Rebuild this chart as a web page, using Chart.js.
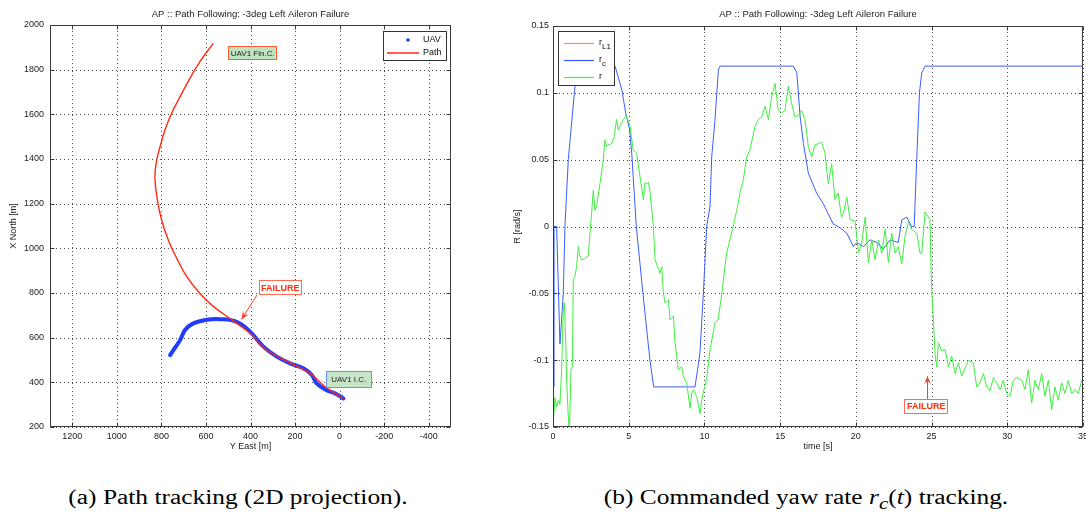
<!DOCTYPE html>
<html>
<head>
<meta charset="utf-8">
<script src="https://cdn.jsdelivr.net/npm/chart.js@4.4.1/dist/chart.umd.min.js"></script>
<style>
  html, body { margin: 0; padding: 0; background: #fff; }
  body { width: 1086px; height: 514px; position: relative; overflow: hidden; }
  .panel { position: absolute; top: 0; height: 460px; }
  #left { left: 0; width: 470px; }
  #right { left: 500px; width: 586px; }
  .caption { position: absolute; top: 486px; font-family: "Liberation Serif", serif; font-size: 20px;
             color: #000; white-space: nowrap; transform: translateX(-50%) scaleX(1.27); }
</style>
</head>
<body>
<div class="panel" id="left"><canvas id="pathChart"></canvas></div>
<div class="panel" id="right"><canvas id="yawChart"></canvas></div>
<div class="caption" style="left:238px">(a) Path tracking (2D projection).</div>
<div class="caption" style="left:806px">(b) Commanded yaw rate <i>r</i><sub><i>c</i></sub>(<i>t</i>) tracking.</div>
<script>
// ---- data: path tracking (East / North in metres) ----
const pathEast  = [-17, 65, 133, 208, 327, 402, 477, 567, 627, 686, 731, 769, 799, 818, 829, 821, 806, 784, 754, 716, 672, 627, 567];
const pathNorth = [328, 380, 440, 480, 545, 620, 675, 740, 798, 873, 955, 1037, 1127, 1216, 1321, 1395, 1455, 1530, 1605, 1679, 1761, 1836, 1918];

const uavEast  = [-17, 20, 58, 103, 125, 163, 223, 282, 342, 402, 462, 537, 597, 657, 694, 716, 740, 761];
const uavNorth = [328, 350, 365, 395, 433, 463, 485, 515, 560, 627, 671, 683, 680, 664, 634, 589, 553, 522];

const eastTicks  = [1200, 1000, 800, 600, 400, 200, 0, -200, -400];
const northTicks = [200, 400, 600, 800, 1000, 1200, 1400, 1600, 1800, 2000];

// ---- data: yaw rate tracking ----
const rL1Time   = [0, 0.15];
const rL1Values = [0, 0];

const rcTime   = [0, 0.07, 0.07, 0.24, 0.46, 0.68, 0.79, 1.01, 1.41, 1.6, 4.1, 4.55, 4.8, 5.05, 5.2, 5.5, 5.94, 6.4, 6.65,
                  9.38, 9.7, 9.93, 10.15, 10.37, 10.48, 10.7, 10.92, 11.03, 15.87, 16.1, 16.32, 16.54, 16.86, 17.41, 17.85,
                  18.5, 18.96, 19.4, 19.84, 20.06, 20.5, 20.94, 21.4, 21.8, 22.26, 22.8, 23.03, 23.36, 23.69, 23.85,
                  24.02, 24.2, 24.35, 24.57, 35];
const rcValues = [-0.12, -0.12, 0, 0, -0.088, -0.05, 0, 0.05, 0.1, 0.12, 0.12, 0.102, 0.085, 0.073, 0.055, 0, -0.05, -0.1, -0.12,
                  -0.12, -0.095, -0.05, 0, 0.015, 0.052, 0.08, 0.117, 0.12, 0.12, 0.115, 0.082, 0.062, 0.04, 0.025, 0.017,
                  0.002, -0.001, -0.005, -0.015, -0.012, -0.015, -0.01, -0.012, -0.017, -0.01, -0.012, 0.005, 0.007, 0, 0,
                  0.05, 0.1, 0.115, 0.12, 0.12];

const rTime = [0, 0.13, 0.24, 0.35, 0.46, 0.57, 0.68, 0.75, 0.84, 0.9, 1.0, 1.08, 1.19, 1.28, 1.34, 1.45, 1.56, 1.67, 1.78, 1.9,
  2.1, 2.33, 2.44, 2.55, 2.66, 2.77, 2.88, 3.1, 3.32, 3.43, 3.54, 3.65, 3.87, 4.03, 4.2, 4.31, 4.42, 4.65, 4.82, 5.09,
  5.3, 5.52, 5.75, 5.97, 6.08, 6.19, 6.3, 6.41, 6.63, 6.74, 7.07, 7.18, 7.29, 7.4, 7.62, 7.73, 7.95, 8.06, 8.28, 8.5,
  8.61, 8.83, 9.05, 9.16, 9.27, 9.49, 9.71, 9.82, 9.93, 10.15, 10.37, 10.7, 10.9, 11.13, 11.46, 11.68, 11.9, 12.13, 12.35, 12.57,
  12.79, 13.0, 13.34, 13.56, 13.78, 14.0, 14.22, 14.44, 14.66, 14.88, 15.1, 15.32, 15.54, 15.76, 15.98, 16.2, 16.42, 16.64, 16.86, 17.08,
  17.3, 17.52, 17.74, 17.96, 18.18, 18.4, 18.62, 18.83, 19.05, 19.18, 19.4, 19.62, 19.95, 20.17, 20.39, 20.61, 20.83, 21.05, 21.27, 21.49,
  21.71, 21.93, 22.15, 22.37, 22.59, 22.8, 23.03, 23.25, 23.47, 23.69, 24.02, 24.24, 24.35, 24.57, 24.79, 24.9, 24.97, 25.03, 25.12, 25.23,
  25.34, 25.45, 25.67, 25.89, 26.11, 26.33, 26.55, 26.77, 26.99, 27.43, 27.76, 27.98, 28.2, 28.42, 28.64, 28.86, 29.08, 29.3, 29.52, 29.74,
  29.96, 30.18, 30.4, 30.62, 30.95, 31.17, 31.39, 31.61, 31.83, 32.05, 32.27, 32.49, 32.71, 32.93, 33.15, 33.37, 33.59, 33.81, 34.03, 34.25,
  34.47, 34.69, 34.91, 35];
const rValues = [-0.15, -0.128, -0.135, -0.13, -0.133, -0.107, -0.062, -0.057, -0.085, -0.115, -0.14, -0.155, -0.107, -0.105, -0.04, -0.037, -0.03, -0.015, -0.022, -0.025,
  -0.024, -0.022, -0.005, 0.01, 0.027, 0.012, 0.015, 0.032, 0.05, 0.065, 0.06, 0.061, 0.062, 0.067, 0.08, 0.072, 0.075, 0.08, 0.083, 0.075,
  0.057, 0.055, 0.037, 0.02, 0.033, 0.032, 0.033, 0.025, 0.0, -0.025, -0.035, -0.03, -0.05, -0.057, -0.055, -0.07, -0.067, -0.087, -0.107, -0.105,
  -0.112, -0.117, -0.136, -0.125, -0.122, -0.127, -0.14, -0.13, -0.124, -0.114, -0.092, -0.072, -0.07, -0.052, -0.02, -0.01, 0.0, 0.012, 0.025, 0.035,
  0.052, 0.057, 0.075, 0.08, 0.082, 0.09, 0.08, 0.097, 0.107, 0.087, 0.085, 0.087, 0.105, 0.092, 0.082, 0.083, 0.087, 0.08, 0.06, 0.052,
  0.061, 0.062, 0.063, 0.055, 0.032, 0.047, 0.02, 0.025, 0.007, 0.01, 0.022, 0.005, 0.004, -0.02, -0.012, 0.007, -0.027, -0.01, -0.025, -0.01,
  -0.02, -0.002, -0.027, -0.005, -0.02, -0.015, -0.028, -0.007, 0.003, -0.002, -0.005, -0.02, -0.02, 0.011, 0.007, 0.005, -0.035, -0.052, -0.07, -0.095,
  -0.105, -0.087, -0.093, -0.092, -0.105, -0.097, -0.11, -0.102, -0.112, -0.1, -0.102, -0.12, -0.117, -0.11, -0.12, -0.123, -0.113, -0.117, -0.122, -0.115,
  -0.125, -0.127, -0.115, -0.113, -0.115, -0.122, -0.107, -0.132, -0.115, -0.122, -0.11, -0.127, -0.115, -0.137, -0.12, -0.13, -0.117, -0.125, -0.115, -0.125,
  -0.122, -0.125, -0.115, -0.117];

const timeTicks = [0, 5, 10, 15, 20, 25, 30, 35];
const rateTicks = [-0.15, -0.1, -0.05, 0, 0.05, 0.1, 0.15];
const rateTickLabels = ['-0.15', '-0.1', '-0.05', '0', '0.05', '0.1', '0.15'];

const chartTitle = 'AP :: Path Following: -3deg Left Aileron Failure';

// ---- shared look ----
const sans = 'Liberation Sans, Arial, sans-serif';
const tickFont = { family: sans, size: 9 };
const gridColor = '#4a4a4a';
const frameColor = '#3a3a3a';

function toPoints(xs, ys) {
    return xs.map((v, i) => ({ x: v, y: ys[i] }));
}

// dotted grid (one pixel every four), drawn under the data
function drawGrid(chart) {
    const { ctx, chartArea: ca, scales } = chart;
    const l = Math.round(ca.left), r = Math.round(ca.right);
    const t = Math.round(ca.top), b = Math.round(ca.bottom);
    ctx.save();
    ctx.fillStyle = gridColor;
    scales.x.ticks.forEach(tk => {
        const px = Math.round(scales.x.getPixelForValue(tk.value));
        for (let yy = t + 2; yy < b - 1; yy += 4) ctx.fillRect(px, yy, 1, 1);
    });
    scales.y.ticks.forEach(tk => {
        const py = Math.round(scales.y.getPixelForValue(tk.value));
        for (let xx = l + 2; xx < r - 1; xx += 4) ctx.fillRect(xx, py, 1, 1);
    });
    ctx.restore();
}

// box round the plot plus ticks on the inside
function drawFrame(chart) {
    const { ctx, chartArea: ca, scales } = chart;
    const l = Math.round(ca.left) + 0.5, r = Math.round(ca.right) - 0.5;
    const t = Math.round(ca.top) + 0.5, b = Math.round(ca.bottom) - 0.5;
    ctx.save();
    ctx.strokeStyle = frameColor;
    ctx.lineWidth = 1;
    ctx.strokeRect(l, t, r - l, b - t);
    ctx.beginPath();
    scales.x.ticks.forEach(tk => {
        const px = Math.round(scales.x.getPixelForValue(tk.value)) + 0.5;
        ctx.moveTo(px, b); ctx.lineTo(px, b - 4);
        ctx.moveTo(px, t); ctx.lineTo(px, t + 4);
    });
    scales.y.ticks.forEach(tk => {
        const py = Math.round(scales.y.getPixelForValue(tk.value)) + 0.5;
        ctx.moveTo(l, py); ctx.lineTo(l + 4, py);
        ctx.moveTo(r, py); ctx.lineTo(r - 4, py);
    });
    ctx.stroke();
    ctx.restore();
}

function textBox(ctx, x, y, w, h, text, fill, stroke, color, font) {
    ctx.fillStyle = fill;
    ctx.fillRect(x, y, w, h);
    ctx.strokeStyle = stroke;
    ctx.lineWidth = 1;
    ctx.strokeRect(Math.round(x) + 0.5, Math.round(y) + 0.5, Math.round(w) - 1, Math.round(h) - 1);
    ctx.fillStyle = color;
    ctx.font = font;
    ctx.textAlign = 'center';
    ctx.textBaseline = 'middle';
    ctx.fillText(text, x + w / 2, y + h / 2 + 0.5);
}

function arrow(ctx, x1, y1, x2, y2, color) {
    const a = Math.atan2(y2 - y1, x2 - x1);
    const L = 8, W = 3.5;
    ctx.strokeStyle = color;
    ctx.fillStyle = color;
    ctx.lineWidth = 1;
    ctx.beginPath();
    ctx.moveTo(x1, y1);
    ctx.lineTo(x2, y2);
    ctx.stroke();
    ctx.beginPath();
    ctx.moveTo(x2, y2);
    ctx.lineTo(x2 - L * Math.cos(a) + W * Math.sin(a), y2 - L * Math.sin(a) - W * Math.cos(a));
    ctx.lineTo(x2 - L * 0.6 * Math.cos(a), y2 - L * 0.6 * Math.sin(a));
    ctx.lineTo(x2 - L * Math.cos(a) - W * Math.sin(a), y2 - L * Math.sin(a) + W * Math.cos(a));
    ctx.closePath();
    ctx.fill();
}

const pathDecor = {
    id: 'pathDecor',
    beforeDatasetsDraw(chart) {
        drawGrid(chart);
    },
    afterDraw(chart) {
        const { ctx, chartArea: ca, scales: { x, y } } = chart;
        drawFrame(chart);
        ctx.save();
        // annotations
        textBox(ctx, x.getPixelForValue(500), y.getPixelForValue(1906), 49, 14, 'UAV1 Fin.C.',
            '#bfe4bf', '#ff5a3a', '#222', '8px ' + sans);
        textBox(ctx, x.getPixelForValue(363), y.getPixelForValue(858), 43, 15, 'FAILURE',
            '#ffffff', '#ff6a50', '#ff3010', 'bold 9px ' + sans);
        arrow(ctx, x.getPixelForValue(371), y.getPixelForValue(791), x.getPixelForValue(440), y.getPixelForValue(682), '#ff4020');
        textBox(ctx, x.getPixelForValue(62), y.getPixelForValue(452), 46, 17, 'UAV1 I.C.',
            '#c6e5c6', '#7090ff', '#222', '8px ' + sans);
        // legend
        const x0 = Math.round(ca.right) - 68, y0 = Math.round(ca.top) + 6;
        ctx.fillStyle = '#fff';
        ctx.fillRect(x0, y0, 64, 30);
        ctx.strokeStyle = '#333';
        ctx.strokeRect(x0 + 0.5, y0 + 0.5, 63, 29);
        ctx.fillStyle = '#1f3cff';
        ctx.beginPath();
        ctx.arc(x0 + 25, y0 + 9, 1.8, 0, Math.PI * 2);
        ctx.fill();
        ctx.strokeStyle = '#ff2a10';
        ctx.lineWidth = 1.5;
        ctx.beginPath();
        ctx.moveTo(x0 + 4, y0 + 22);
        ctx.lineTo(x0 + 36, y0 + 22);
        ctx.stroke();
        ctx.fillStyle = '#111';
        ctx.font = '9px ' + sans;
        ctx.textAlign = 'left';
        ctx.textBaseline = 'middle';
        ctx.fillText('UAV', x0 + 40, y0 + 9);
        ctx.fillText('Path', x0 + 40, y0 + 22);
        ctx.restore();
    }
};

const yawDecor = {
    id: 'yawDecor',
    beforeDatasetsDraw(chart) {
        drawGrid(chart);
    },
    afterDraw(chart) {
        const { ctx, chartArea: ca, scales: { x, y } } = chart;
        drawFrame(chart);
        ctx.save();
        // failure marker
        const bx = x.getPixelForValue(23.2), by = y.getPixelForValue(-0.129);
        textBox(ctx, bx, by, 44, 15, 'FAILURE', '#ffffff', '#ff6a50', '#ff3010', 'bold 9px ' + sans);
        const ax = Math.round(x.getPixelForValue(24.72)) + 0.5;
        arrow(ctx, ax, by, ax, y.getPixelForValue(-0.112), '#ff4020');
        // legend
        const x0 = Math.round(ca.left) + 5, y0 = Math.round(ca.top) + 5;
        ctx.fillStyle = '#fff';
        ctx.fillRect(x0, y0, 57, 55);
        ctx.strokeStyle = '#333';
        ctx.lineWidth = 1;
        ctx.strokeRect(x0 + 0.5, y0 + 0.5, 56, 54);
        const entries = [['#ff8a70', 'L1'], ['#3a5cff', 'c'], ['#3ef03e', '']];
        entries.forEach((e, i) => {
            const ly = y0 + 12 + i * 17 + 0.5;
            ctx.strokeStyle = e[0];
            ctx.lineWidth = 1.2;
            ctx.beginPath();
            ctx.moveTo(x0 + 6, ly);
            ctx.lineTo(x0 + 36, ly);
            ctx.stroke();
            ctx.fillStyle = '#111';
            ctx.textAlign = 'left';
            ctx.textBaseline = 'middle';
            ctx.font = '9px ' + sans;
            ctx.fillText('r', x0 + 41, ly - 1);
            if (e[1]) {
                ctx.font = '8px ' + sans;
                ctx.fillText(e[1], x0 + 44, ly + 3);
            }
        });
        ctx.restore();
    }
};

function axisBase(extra) {
    return Object.assign({
        type: 'linear',
        grid: { display: false, drawTicks: false },
        border: { display: false }
    }, extra);
}

// keep the edge tick labels from shrinking the plot box
function fixSize(prop, size) {
    return s => {
        s[prop] = size;
        s.paddingLeft = 0; s.paddingRight = 0; s.paddingTop = 0; s.paddingBottom = 0;
    };
}

new Chart(document.getElementById('pathChart'), {
    type: 'scatter',
    data: {
        datasets: [
            { label: 'Path', data: toPoints(pathEast, pathNorth), showLine: true, borderColor: '#ff2a10',
              borderWidth: 1.4, pointRadius: 0, tension: 0.4 },
            { label: 'UAV', data: toPoints(uavEast, uavNorth), showLine: true, borderColor: '#1f3cff',
              borderWidth: 4, pointRadius: 0, tension: 0.4, borderCapStyle: 'round', borderJoinStyle: 'round' }
        ]
    },
    options: {
        responsive: true,
        maintainAspectRatio: false,
        animation: false,
        layout: { padding: { left: 0, right: 19, top: 0, bottom: 0 } },
        plugins: {
            legend: { display: false },
            tooltip: { enabled: false },
            title: { display: true, text: chartTitle, fullSize: false, color: '#222',
                     font: { family: sans, size: 9.5, weight: 'normal' }, padding: { top: 8.5, bottom: 5.1 } }
        },
        scales: {
            x: axisBase({
                reverse: true, min: -500, max: 1300,
                afterBuildTicks: s => { s.ticks = eastTicks.map(v => ({ value: v })); },
                afterFit: fixSize('height', 33),
                ticks: { font: tickFont, color: '#222', padding: 4, maxRotation: 0, autoSkip: false,
                         callback: v => String(v) },
                title: { display: true, text: 'Y East [m]', color: '#222', font: tickFont, padding: { top: 0, bottom: 8 } }
            }),
            y: axisBase({
                min: 200, max: 2000,
                afterBuildTicks: s => { s.ticks = northTicks.map(v => ({ value: v })); },
                afterFit: fixSize('width', 50),
                ticks: { font: tickFont, color: '#222', padding: 6, autoSkip: false, callback: v => String(v) },
                title: { display: true, text: 'X North [m]', color: '#222', font: tickFont, padding: { top: 8, bottom: 0 } }
            })
        }
    },
    plugins: [pathDecor]
});

new Chart(document.getElementById('yawChart'), {
    type: 'scatter',
    data: {
        datasets: [
            { label: 'r', data: toPoints(rTime, rValues), showLine: true, borderColor: '#3ef03e',
              borderWidth: 1, pointRadius: 0, tension: 0 },
            { label: 'r_c', data: toPoints(rcTime, rcValues), showLine: true, borderColor: '#3a5cff',
              borderWidth: 1, pointRadius: 0, tension: 0 },
            { label: 'r_L1', data: toPoints(rL1Time, rL1Values), showLine: true, borderColor: '#ff6a50',
              borderWidth: 1.2, pointRadius: 0, tension: 0 }
        ]
    },
    options: {
        responsive: true,
        maintainAspectRatio: false,
        animation: false,
        layout: { padding: { left: 0, right: 3, top: 0, bottom: 0 } },
        plugins: {
            legend: { display: false },
            tooltip: { enabled: false },
            title: { display: true, text: chartTitle, fullSize: false, color: '#222',
                     font: { family: sans, size: 9.5, weight: 'normal' }, padding: { top: 8.5, bottom: 6.1 } }
        },
        scales: {
            x: axisBase({
                min: 0, max: 35,
                afterBuildTicks: s => { s.ticks = timeTicks.map(v => ({ value: v })); },
                afterFit: fixSize('height', 33),
                ticks: { font: tickFont, color: '#222', padding: 4, maxRotation: 0, autoSkip: false },
                title: { display: true, text: 'time [s]', color: '#222', font: tickFont, padding: { top: 0, bottom: 8 } }
            }),
            y: axisBase({
                min: -0.15, max: 0.15,
                afterBuildTicks: s => { s.ticks = rateTicks.map(v => ({ value: v })); },
                afterFit: fixSize('width', 53),
                ticks: { font: tickFont, color: '#222', padding: 4, autoSkip: false,
                         callback: (v, i) => rateTickLabels[i] },
                title: { display: true, text: 'R [rad/s]', color: '#222', font: tickFont, padding: { top: 12, bottom: 0 } }
            })
        }
    },
    plugins: [yawDecor]
});
</script>
</body>
</html>
